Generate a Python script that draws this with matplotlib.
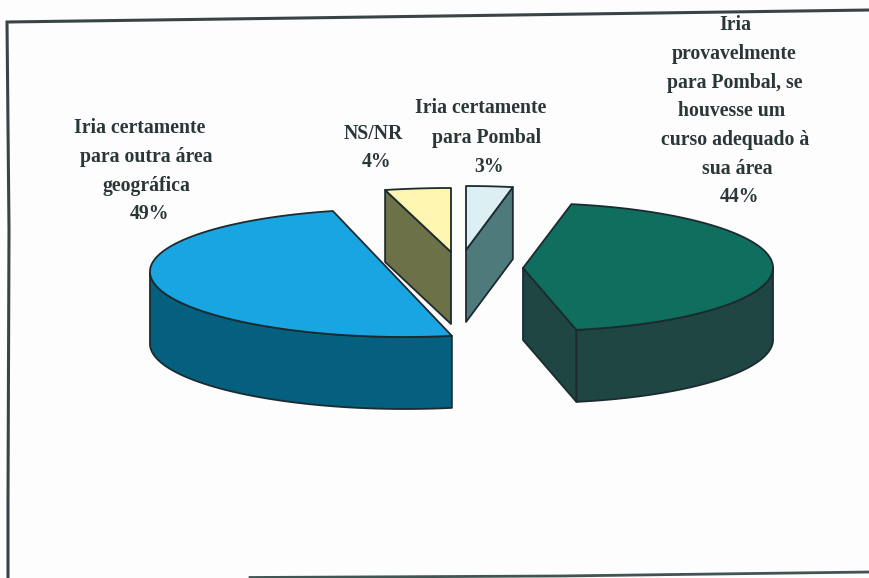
import numpy as np
import matplotlib
matplotlib.use("Agg")
import matplotlib.pyplot as plt
from matplotlib.patches import Polygon

# Dados do grafico (ordem do Excel: comeca ao meio-dia, sentido horario)
categorias = ["Iria certamente para Pombal",
              "Iria provavelmente para Pombal",
              "Iria certamente para outra area geografica",
              "NS/NR"]
valores = [3, 44, 49, 4]

cores_topo = ["#dcf0f4", "#0f6e5e", "#19a5e2", "#fdf5b0"]
cores_lado = ["#4f7a7c", "#1f4642", "#05607f", "#6c7147"]

# Geometria de cada fatia depois de explodir
centros = [(466, 250), (528, 267), (400, 273), (451, 252)]
vertices = [(466, 250), (523, 268), (392, 273), (451, 252)]
raios = [250, 245, 250, 265]
inclinacao = [0, 0.04, 0.08, 0]
# qual dos lados do corte fica virado para a frente (0 inicio, 1 fim, None nenhum)
face_corte = [1, 1, None, 0]
ordem_z = [2, 3, 4, 2]

rotulos = [
    ["Iria certamente", "para Pombal"],
    ["Iria", "provavelmente", "para Pombal, se", "houvesse um", "curso adequado à", "sua área"],
    ["Iria certamente", "para outra área", "geográfica"],
    ["NS/NR"],
]
rotulos_x = [[481, 487, 489],
             [735, 734, 735, 732, 735, 737, 740],
             [140, 146, 146, 150],
             [373, 377]]
rotulos_y = [[108, 138, 167],
             [25, 54, 83, 111, 140, 169, 197],
             [128, 157, 186, 214],
             [134, 162]]

B = 64
ALTURA = 72
COR_BORDA = "#1b2b30"
COR_TEXTO = "#2b3638"


def arco(i, t1, t2, n=80):
    t = np.linspace(t1, t2, n)
    y = -B * np.sin(t)
    x = raios[i] * np.cos(t) + inclinacao[i] * y
    return np.column_stack([centros[i][0] + x, centros[i][1] + y])


def desenhar_fatia(ax, i, t1, t2):
    v = np.array(vertices[i], dtype=float)
    desce = np.array([0, ALTURA])
    kw = dict(edgecolor=COR_BORDA, linewidth=1.3, joinstyle="round", zorder=ordem_z[i])

    # face do corte virada para a frente
    if face_corte[i] is not None:
        p = arco(i, t1, t2)[-1 if face_corte[i] else 0]
        ax.add_patch(Polygon([v, p, p + desce, v + desce], facecolor=cores_lado[i], **kw))

    # parede exterior: so a parte de baixo da elipse se ve
    if t1 > -np.pi and t2 < 0:
        a = arco(i, min(t1, 0.0), max(t2, -np.pi))
        ax.add_patch(Polygon(np.vstack([a, (a + desce)[::-1]]), facecolor=cores_lado[i], **kw))

    topo = np.vstack([v, arco(i, t1, t2)])
    ax.add_patch(Polygon(topo, facecolor=cores_topo[i], **kw))


fig = plt.figure(figsize=(8.7, 5.78), dpi=100, facecolor="#fdfdfd")
ax = fig.add_axes([0, 0, 1, 1])
ax.set_xlim(0, 870)
ax.set_ylim(578, 0)
ax.axis("off")

# Moldura digitalizada
ax.plot([870, 300, 7, 9, 8, 8], [10, 18, 22, 230, 500, 578], color="#3a4446", lw=2.2, solid_joinstyle="miter")
ax.plot([250, 560, 870], [577.5, 576, 572], color="#3f5552", lw=2.0)

# Fatias: angulos calculados a partir dos valores
angulos = np.pi / 2 - np.cumsum([0] + valores) / sum(valores) * 2 * np.pi
for i in range(len(valores)):
    desenhar_fatia(ax, i, angulos[i], angulos[i + 1])

# Rotulos
for linhas, xs, ys, v in zip(rotulos, rotulos_x, rotulos_y, valores):
    for txt, x, y in zip(linhas + [f"{v}%"], xs, ys):
        ax.text(x, y, txt, ha="center", va="center", fontsize=14.2, fontweight="bold",
                family="Liberation Serif", color=COR_TEXTO, zorder=6)

fig.savefig("out.png", dpi=100, facecolor=fig.get_facecolor())
